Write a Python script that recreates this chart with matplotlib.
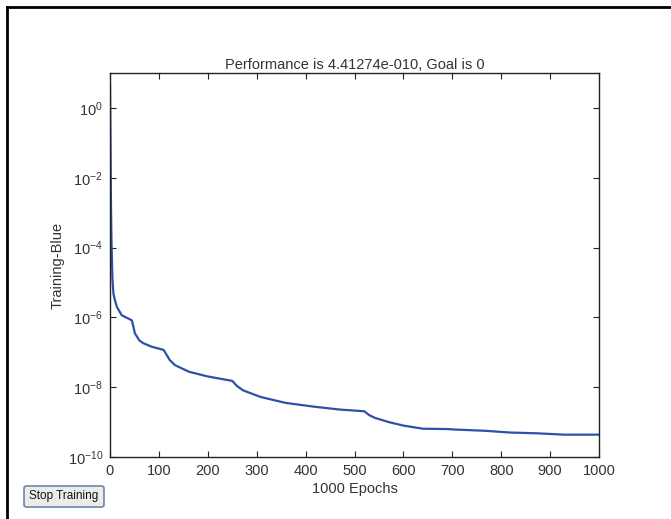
import numpy as np
import matplotlib
matplotlib.use("Agg")
import matplotlib.pyplot as plt
from matplotlib.lines import Line2D
from matplotlib.patches import FancyBboxPatch

plt.rcParams['font.family'] = ['Liberation Sans', 'DejaVu Sans']
plt.rcParams['mathtext.fontset'] = 'custom'
plt.rcParams['mathtext.rm'] = 'Liberation Sans'
plt.rcParams['mathtext.it'] = 'Liberation Sans'
plt.rcParams['mathtext.bf'] = 'Liberation Sans'

# training performance (epoch, log10 of error)
epochs = [0, 1, 2, 3, 5, 7, 10, 14, 24, 44, 45, 51, 60, 68, 85, 109, 111,
          122, 133, 162, 199, 250, 260, 272, 308, 359, 418, 469, 520,
          530, 542, 570, 600, 640, 692, 700, 768, 819, 871, 929, 1000]
log_perf = [0.70, -0.94, -2.8, -3.8, -4.9, -5.32, -5.5, -5.7, -5.94, -6.08, -6.10,
            -6.46, -6.66, -6.74, -6.84, -6.93, -6.96,
            -7.22, -7.37, -7.56, -7.69, -7.82, -7.97, -8.09, -8.28, -8.45, -8.56, -8.64, -8.69,
            -8.80, -8.88, -9.00, -9.10, -9.19, -9.20, -9.21, -9.25, -9.30, -9.32, -9.36, -9.36]
perf = 10.0 ** np.array(log_perf)

x_ticks = [0, 100, 200, 300, 400, 500, 600, 700, 800, 900, 1000]
y_ticks = [1e-10, 1e-8, 1e-6, 1e-4, 1e-2, 1e0]

txt = '#333333'

fig = plt.figure(figsize=(6.71, 5.19), dpi=100)
ax = fig.add_axes([110 / 671, 1 - 457 / 519, 489 / 671, 384 / 519])

ax.semilogy(epochs, perf, color='#2f50a8', linewidth=1.6)
ax.set_xlim(0, 1000)
ax.set_ylim(1e-10, 1e1)
ax.set_xticks(x_ticks)
ax.set_yticks(y_ticks)
ax.minorticks_off()
ax.tick_params(direction='in', top=True, right=True, length=4, width=0.8,
               labelsize=10.5, pad=5, colors='#222222', labelcolor=txt)
for s in ax.spines.values():
    s.set_linewidth(1.0)
    s.set_color('#222222')

ax.set_title('Performance is 4.41274e-010, Goal is 0', fontsize=10.5, pad=3, color=txt)
ax.set_xlabel('1000 Epochs', fontsize=10.5, labelpad=3, color=txt)
ax.set_ylabel('Training-Blue', fontsize=10.5, labelpad=2, color=txt)

# window frame (left and top edges)
fig.add_artist(Line2D([7 / 671, 7 / 671], [0, 1 - 7 / 519], color='black', linewidth=2))
fig.add_artist(Line2D([7 / 671, 1], [1 - 7 / 519, 1 - 7 / 519], color='black', linewidth=2))

# Stop Training button
btn = FancyBboxPatch((24 / 671, 1 - 507 / 519), 80 / 671, 21 / 519,
                     boxstyle='round,pad=0,rounding_size=0.004',
                     transform=fig.transFigure, facecolor='#ececec',
                     edgecolor='#6b86a8', linewidth=1.2)
fig.add_artist(btn)
fig.text(64 / 671, 1 - 496.5 / 519, 'Stop Training', fontsize=8.5,
         ha='center', va='center', color='#111111')

fig.savefig('out.png', dpi=100)
